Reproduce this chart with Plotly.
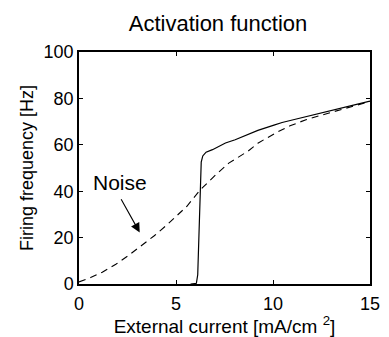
import plotly.graph_objects as go

# Solid curve (deterministic activation)
solid_x = [5.75, 6.05, 6.12, 6.2, 6.25, 6.3, 6.38, 6.55, 6.88, 7.55, 8.05, 8.7, 9.22,
           10.05, 10.47, 11.1, 11.72, 12.5, 13.38, 14.2, 15.0]
solid_y = [0, 0.3, 4, 28, 45, 52.5, 55.2, 56.8, 57.9, 60.8, 62.2, 64.3, 66.2,
           68.5, 69.6, 70.9, 72.1, 73.8, 75.6, 77.2, 78.8]

# Dashed curve (with noise)
noise_x = [0, 0.6, 1.2, 1.9, 2.55, 3.2, 3.88, 4.55, 5.22, 5.55, 6.22, 7.05, 7.72,
           8.72, 9.22, 10.22, 10.88, 11.7, 12.55, 13.4, 14.2, 15.0]
noise_y = [0.9, 2.8, 5.1, 8.5, 12.3, 16.4, 20.8, 25.6, 30.8, 33.4, 40.3, 47.1, 52.1,
           57.3, 60.7, 65.5, 68.2, 70.8, 72.9, 75.0, 76.9, 78.7]

x_ticks = [0, 5, 10, 15]
y_ticks = [0, 20, 40, 60, 80, 100]

FONT = "Liberation Sans, Arial, Helvetica, sans-serif"

fig = go.Figure()
fig.add_trace(go.Scatter(x=noise_x, y=noise_y, mode="lines",
                         line=dict(color="black", width=1.1, dash="7px,5px"),
                         showlegend=False, hoverinfo="skip"))
fig.add_trace(go.Scatter(x=solid_x, y=solid_y, mode="lines",
                         line=dict(color="black", width=1.2),
                         showlegend=False, hoverinfo="skip"))

fig.add_annotation(x=3.13, y=22.2, ax=2.13, ay=37.2, xref="x", yref="y",
                   axref="x", ayref="y", text="", showarrow=True,
                   arrowhead=2, arrowsize=1.7, arrowwidth=1.1, arrowcolor="black")
fig.add_annotation(x=2.13, y=43.6, xref="x", yref="y", text="Noise",
                   showarrow=False, font=dict(family=FONT, size=21, color="black"))

fig.update_layout(
    width=389, height=337,
    margin=dict(l=79, r=9, t=52, b=50),
    paper_bgcolor="white", plot_bgcolor="white",
    font=dict(family=FONT, size=18, color="black"),
    title=dict(text="Activation function", x=218/389, xanchor="center",
               y=1 - 23/337, yanchor="middle",
               font=dict(family=FONT, size=22, color="black")),
    xaxis=dict(range=[0, 15], tickvals=x_ticks, ticks="inside", ticklen=4,
               tickwidth=1, tickcolor="black", showline=True, linecolor="black",
               linewidth=1.5, mirror="ticks", showgrid=False, zeroline=False,
               ticklabelstandoff=3,
               title=dict(text="External current [mA/cm <sup>2</sup>]", standoff=0,
                          font=dict(family=FONT, size=19)),
               tickfont=dict(family=FONT, size=18)),
    yaxis=dict(range=[0, 100], tickvals=y_ticks, ticks="inside", ticklen=4,
               tickwidth=1, tickcolor="black", showline=True, linecolor="black",
               linewidth=1.5, mirror="ticks", showgrid=False, zeroline=False,
               title=dict(text="Firing frequency [Hz]", standoff=5,
                          font=dict(family=FONT, size=18)),
               tickfont=dict(family=FONT, size=18)),
)

fig.write_html("out.html")
